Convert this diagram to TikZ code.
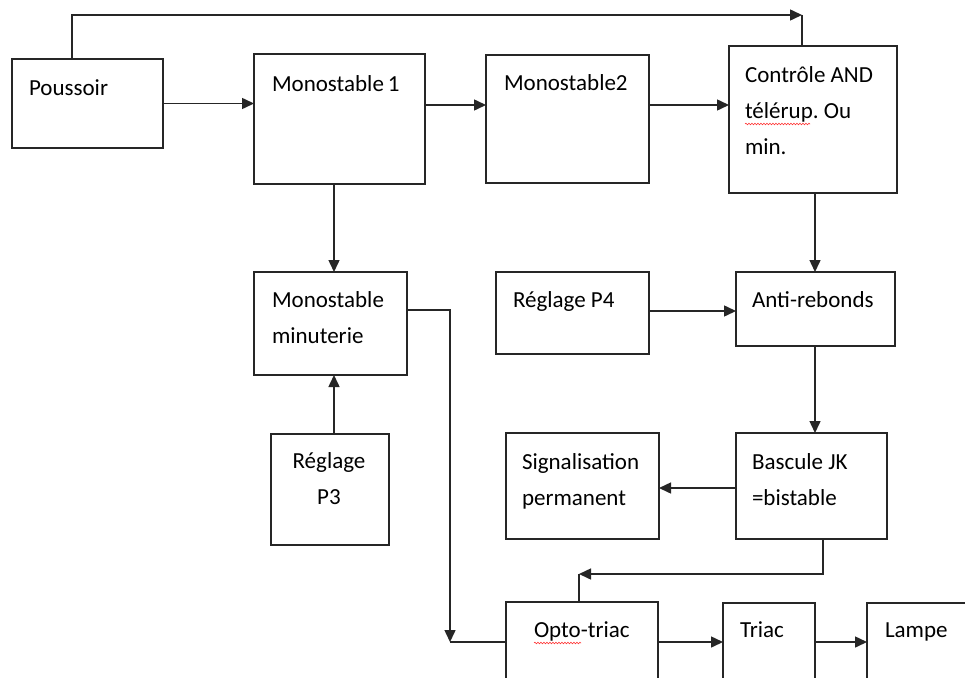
\documentclass[tikz,border=0pt]{standalone}
\usepackage{fontspec}
\setmainfont{Carlito}
\frenchspacing
\usetikzlibrary{arrows.meta,calc,decorations.pathmorphing}
\begin{document}
\begin{tikzpicture}[x=1pt,y=-1pt,
  box/.style={draw=black!85,line width=2pt,inner sep=0pt,outer sep=0pt,fill=white},
  txt/.style={anchor=base west,inner sep=0pt,outer sep=0pt,text=black,align=left,
              font=\fontsize{23}{36}\selectfont},
  ctxt/.style={txt,anchor=base,align=center},
  conn/.style={draw=black!85,line width=1.5pt},
  arr/.style={conn,-{Triangle[length=12pt,width=11pt]}},
  spell/.style={draw=red!80,line width=0.6pt,decorate,
                decoration={snake,amplitude=0.8pt,segment length=3pt}}]
\clip (0,0) rectangle (965,677);
\fill[white] (0,0) rectangle (965,677);

% boxes
\node[box,minimum width=151pt,minimum height=89pt]  (pous)  at (87.5,103.5) {};
\node[box,minimum width=171pt,minimum height=130pt] (mono1) at (339.5,119) {};
\node[box,minimum width=163pt,minimum height=128pt] (mono2) at (567.5,119) {};
\node[box,minimum width=168pt,minimum height=147pt] (ctrl)  at (813,119.5) {};
\node[box,minimum width=153pt,minimum height=103pt] (minu)  at (330.5,323.5) {};
\node[box,minimum width=153pt,minimum height=82pt]  (p4)    at (572.5,313) {};
\node[box,minimum width=159pt,minimum height=74pt]  (anti)  at (815.5,309) {};
\node[box,minimum width=118pt,minimum height=111pt] (p3)    at (330,489.5) {};
\node[box,minimum width=153pt,minimum height=106pt] (sig)   at (582.5,486) {};
\node[box,minimum width=151pt,minimum height=106pt] (jk)    at (811.5,486) {};
\node[box,minimum width=152pt,minimum height=98pt]  (opto)  at (582,651) {};
\node[box,minimum width=92pt,minimum height=97pt]   (triac) at (769,651.5) {};
\node[box,minimum width=133pt,minimum height=97pt]  (lampe) at (933.5,651.5) {};

% texts (multi-line: base anchor is the last line)
\node[txt] (tpous)  at (29,95)   {Poussoir};
\node[txt] (tmono1) at (272,91)  {Monostable\,1};
\node[txt] (tmono2) at (504,90)  {Monostable2};
\node[txt] (tctrl)  at (745,154) {Contrôle AND\\télérup. Ou\\min.};
\node[txt] (tminu)  at (272,343) {Monostable\\minuterie};
\node[txt] (tp4)    at (513,307) {Réglage P4};
\node[txt] (tanti)  at (752,307) {Anti-rebonds};
\node[ctxt] (tp3)   at (329,504) {Réglage\\P3};
\node[txt] (tsig)   at (522,505) {Signalisation\\permanent};
\node[txt] (tjk)    at (752,505) {Bascule JK\\=bistable};
\node[txt] (topto)  at (534,637) {Opto-triac};
\node[txt] (ttriac) at (740,637) {Triac};
\node[txt] (tlampe) at (885,637) {Lampe};

% spell-check underlines
\draw[spell] (745,124) -- (810,124);
\draw[spell] (534,643) -- (581,643);

% connectors
\coordinate (tr) at (802,15);
\draw[arr] ($(pous.north west)+(60,0)$) |- (tr);
\draw[conn] (tr) -- (tr |- ctrl.north);

\draw[arr] (pous.east) -- (pous.east -| mono1.west);
\draw[arr] (mono1.east |- 0,105) -- (mono2.west |- 0,105);
\draw[arr] (mono2.east |- 0,105) -- (ctrl.west |- 0,105);

\draw[arr] (mono1.south -| 334,0) -- (minu.north -| 334,0);
\draw[arr] (p3.north -| 334,0) -- (minu.south -| 334,0);

\coordinate (c1) at (450,642);
\draw[arr] (minu.east |- 0,310) -| (c1);
\draw[conn] (c1) -- (c1 -| opto.west);

\draw[arr] (ctrl.south -| 815,0) -- (anti.north -| 815,0);
\draw[arr] (p4.east |- 0,311) -- (anti.west |- 0,311);
\draw[arr] (anti.south -| 815,0) -- (jk.north -| 815,0);
\draw[arr] (jk.west |- 0,488) -- (sig.east |- 0,488);

\coordinate (c2) at (579,574);
\draw[arr] (jk.south -| 823,0) |- (c2);
\draw[conn] (c2) -- (c2 |- opto.north);

\draw[arr] (opto.east |- 0,642) -- (triac.west |- 0,642);
\draw[arr] (triac.east |- 0,642) -- (lampe.west |- 0,642);
\end{tikzpicture}
\end{document}
